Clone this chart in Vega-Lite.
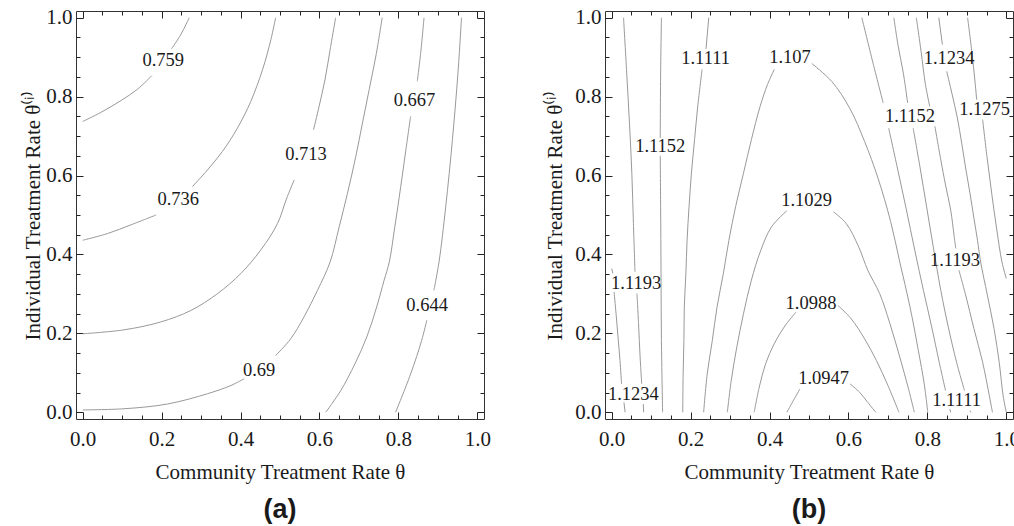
{
  "$schema": "https://vega.github.io/schema/vega-lite/v6.json",
  "padding": {"left": 22, "top": 6, "right": 0, "bottom": 0},
  "spacing": 53,
  "datasets": {
    "la": [
      {"s":"759a","x":0,"y":0.737},{"s":"759a","x":0.046,"y":0.760},{"s":"759a","x":0.097,"y":0.790},{"s":"759a","x":0.139,"y":0.819},{"s":"759a","x":0.175,"y":0.853},
      {"s":"759b","x":0.225,"y":0.921},{"s":"759b","x":0.249,"y":0.958},{"s":"759b","x":0.27,"y":1.0},
      {"s":"736a","x":0,"y":0.436},{"s":"736a","x":0.063,"y":0.453},{"s":"736a","x":0.122,"y":0.475},{"s":"736a","x":0.186,"y":0.5},
      {"s":"736b","x":0.278,"y":0.572},{"s":"736b","x":0.316,"y":0.614},{"s":"736b","x":0.354,"y":0.661},{"s":"736b","x":0.392,"y":0.72},{"s":"736b","x":0.426,"y":0.788},{"s":"736b","x":0.456,"y":0.869},{"s":"736b","x":0.477,"y":0.945},{"s":"736b","x":0.489,"y":1.0},
      {"s":"713a","x":0,"y":0.199},{"s":"713a","x":0.105,"y":0.209},{"s":"713a","x":0.198,"y":0.229},{"s":"713a","x":0.274,"y":0.258},{"s":"713a","x":0.342,"y":0.301},{"s":"713a","x":0.401,"y":0.352},{"s":"713a","x":0.451,"y":0.411},{"s":"713a","x":0.494,"y":0.479},{"s":"713a","x":0.516,"y":0.54},{"s":"713a","x":0.536,"y":0.589},
      {"s":"713b","x":0.585,"y":0.716},{"s":"713b","x":0.599,"y":0.775},{"s":"713b","x":0.614,"y":0.843},{"s":"713b","x":0.627,"y":0.919},{"s":"713b","x":0.641,"y":1.0},
      {"s":"690a","x":0,"y":0.006},{"s":"690a","x":0.105,"y":0.009},{"s":"690a","x":0.215,"y":0.021},{"s":"690a","x":0.316,"y":0.047},{"s":"690a","x":0.376,"y":0.068},{"s":"690a","x":0.409,"y":0.085},
      {"s":"690b","x":0.489,"y":0.144},{"s":"690b","x":0.527,"y":0.186},{"s":"690b","x":0.561,"y":0.242},{"s":"690b","x":0.595,"y":0.309},{"s":"690b","x":0.627,"y":0.381},{"s":"690b","x":0.65,"y":0.47},{"s":"690b","x":0.671,"y":0.555},{"s":"690b","x":0.692,"y":0.648},{"s":"690b","x":0.709,"y":0.733},{"s":"690b","x":0.726,"y":0.818},{"s":"690b","x":0.743,"y":0.903},{"s":"690b","x":0.759,"y":1.0},
      {"s":"667a","x":0.616,"y":0},{"s":"667a","x":0.654,"y":0.055},{"s":"667a","x":0.69,"y":0.123},{"s":"667a","x":0.72,"y":0.191},{"s":"667a","x":0.745,"y":0.267},{"s":"667a","x":0.764,"y":0.335},{"s":"667a","x":0.777,"y":0.381},{"s":"667a","x":0.791,"y":0.47},{"s":"667a","x":0.806,"y":0.572},{"s":"667a","x":0.819,"y":0.665},{"s":"667a","x":0.831,"y":0.75},
      {"s":"667b","x":0.848,"y":0.839},{"s":"667b","x":0.857,"y":0.915},{"s":"667b","x":0.865,"y":1.0},
      {"s":"644a","x":0.793,"y":0},{"s":"644a","x":0.831,"y":0.097},{"s":"644a","x":0.859,"y":0.182},{"s":"644a","x":0.872,"y":0.233},
      {"s":"644b","x":0.89,"y":0.309},{"s":"644b","x":0.903,"y":0.381},{"s":"644b","x":0.92,"y":0.521},{"s":"644b","x":0.937,"y":0.691},{"s":"644b","x":0.951,"y":0.86},{"s":"644b","x":0.96,"y":1.0}
    ],
    "lt": [
      {"x":0.204,"y":0.892,"t":"0.759"},{"x":0.242,"y":0.540,"t":"0.736"},{"x":0.566,"y":0.655,"t":"0.713"},
      {"x":0.447,"y":0.108,"t":"0.69"},{"x":0.841,"y":0.792,"t":"0.667"},{"x":0.873,"y":0.273,"t":"0.644"}
    ],
    "ra": [
      {"s":"1234La","x":0,"y":0.364},{"s":"1234La","x":0.003,"y":0.352},
      {"s":"1234Lb","x":0.006,"y":0.305},{"s":"1234Lb","x":0.011,"y":0.25},{"s":"1234Lb","x":0.016,"y":0.191},{"s":"1234Lb","x":0.021,"y":0.131},{"s":"1234Lb","x":0.025,"y":0.072},
      {"s":"1234Lc","x":0.031,"y":0.025},{"s":"1234Lc","x":0.034,"y":0},
      {"s":"1193La","x":0.03,"y":1.0},{"s":"1193La","x":0.038,"y":0.86},{"s":"1193La","x":0.045,"y":0.733},{"s":"1193La","x":0.051,"y":0.606},{"s":"1193La","x":0.055,"y":0.479},{"s":"1193La","x":0.059,"y":0.356},
      {"s":"1193Lb","x":0.064,"y":0.301},{"s":"1193Lb","x":0.068,"y":0.225},{"s":"1193Lb","x":0.072,"y":0.14},{"s":"1193Lb","x":0.076,"y":0.072},
      {"s":"1193Lc","x":0.08,"y":0.021},{"s":"1193Lc","x":0.081,"y":0},
      {"s":"1152La","x":0.126,"y":1.0},{"s":"1152La","x":0.124,"y":0.86},{"s":"1152La","x":0.123,"y":0.695},
      {"s":"1152Lb","x":0.123,"y":0.65},{"s":"1152Lb","x":0.124,"y":0.521},{"s":"1152Lb","x":0.125,"y":0.352},{"s":"1152Lb","x":0.126,"y":0.182},{"s":"1152Lb","x":0.129,"y":0},
      {"s":"1111La","x":0.246,"y":1.0},{"s":"1111La","x":0.239,"y":0.921},
      {"s":"1111Lb","x":0.229,"y":0.869},{"s":"1111Lb","x":0.218,"y":0.775},{"s":"1111Lb","x":0.21,"y":0.691},{"s":"1111Lb","x":0.202,"y":0.606},{"s":"1111Lb","x":0.196,"y":0.521},{"s":"1111Lb","x":0.191,"y":0.436},{"s":"1111Lb","x":0.188,"y":0.352},{"s":"1111Lb","x":0.184,"y":0.267},{"s":"1111Lb","x":0.183,"y":0.182},{"s":"1111Lb","x":0.181,"y":0.097},{"s":"1111Lb","x":0.18,"y":0},
      {"s":"1107a","x":0.233,"y":0},{"s":"1107a","x":0.242,"y":0.097},{"s":"1107a","x":0.255,"y":0.182},{"s":"1107a","x":0.267,"y":0.267},{"s":"1107a","x":0.283,"y":0.352},{"s":"1107a","x":0.297,"y":0.436},{"s":"1107a","x":0.314,"y":0.521},{"s":"1107a","x":0.334,"y":0.606},{"s":"1107a","x":0.354,"y":0.691},{"s":"1107a","x":0.376,"y":0.775},{"s":"1107a","x":0.395,"y":0.831},{"s":"1107a","x":0.412,"y":0.869},
      {"s":"1107b","x":0.507,"y":0.884},{"s":"1107b","x":0.558,"y":0.838},{"s":"1107b","x":0.603,"y":0.771},{"s":"1107b","x":0.641,"y":0.686},{"s":"1107b","x":0.675,"y":0.593},{"s":"1107b","x":0.707,"y":0.483},{"s":"1107b","x":0.73,"y":0.381},{"s":"1107b","x":0.756,"y":0.267},{"s":"1107b","x":0.777,"y":0.157},{"s":"1107b","x":0.792,"y":0.072},{"s":"1107b","x":0.801,"y":0},
      {"s":"1029a","x":0.293,"y":0},{"s":"1029a","x":0.303,"y":0.081},{"s":"1029a","x":0.317,"y":0.165},{"s":"1029a","x":0.334,"y":0.25},{"s":"1029a","x":0.354,"y":0.335},{"s":"1029a","x":0.378,"y":0.411},{"s":"1029a","x":0.405,"y":0.47},{"s":"1029a","x":0.444,"y":0.511},
      {"s":"1029b","x":0.562,"y":0.508},{"s":"1029b","x":0.594,"y":0.479},{"s":"1029b","x":0.626,"y":0.419},{"s":"1029b","x":0.649,"y":0.36},{"s":"1029b","x":0.679,"y":0.301},{"s":"1029b","x":0.705,"y":0.225},{"s":"1029b","x":0.73,"y":0.14},{"s":"1029b","x":0.751,"y":0.064},{"s":"1029b","x":0.767,"y":0},
      {"s":"0988a","x":0.361,"y":0},{"s":"0988a","x":0.374,"y":0.064},{"s":"0988a","x":0.39,"y":0.123},{"s":"0988a","x":0.412,"y":0.174},{"s":"0988a","x":0.437,"y":0.216},{"s":"0988a","x":0.467,"y":0.254},
      {"s":"0988b","x":0.573,"y":0.271},{"s":"0988b","x":0.607,"y":0.237},{"s":"0988b","x":0.641,"y":0.186},{"s":"0988b","x":0.671,"y":0.131},{"s":"0988b","x":0.7,"y":0.068},{"s":"0988b","x":0.728,"y":0},
      {"s":"0947a","x":0.444,"y":0},{"s":"0947a","x":0.461,"y":0.031},{"s":"0947a","x":0.477,"y":0.059},
      {"s":"0947b","x":0.604,"y":0.072},{"s":"0947b","x":0.628,"y":0.051},{"s":"0947b","x":0.649,"y":0.025},{"s":"0947b","x":0.669,"y":0},
      {"s":"1111Ra","x":0.634,"y":1.0},{"s":"1111Ra","x":0.66,"y":0.894},{"s":"1111Ra","x":0.688,"y":0.784},
      {"s":"1111Rb","x":0.702,"y":0.72},{"s":"1111Rb","x":0.724,"y":0.619},{"s":"1111Rb","x":0.746,"y":0.517},{"s":"1111Rb","x":0.768,"y":0.411},{"s":"1111Rb","x":0.79,"y":0.309},{"s":"1111Rb","x":0.811,"y":0.216},{"s":"1111Rb","x":0.83,"y":0.127},{"s":"1111Rb","x":0.846,"y":0.055},
      {"s":"1111Rc","x":0.857,"y":0.008},{"s":"1111Rc","x":0.859,"y":0},
      {"s":"1152Ra","x":0.715,"y":1.0},{"s":"1152Ra","x":0.726,"y":0.928},{"s":"1152Ra","x":0.739,"y":0.86},{"s":"1152Ra","x":0.75,"y":0.784},
      {"s":"1152Rb","x":0.764,"y":0.72},{"s":"1152Rb","x":0.781,"y":0.623},{"s":"1152Rb","x":0.798,"y":0.521},{"s":"1152Rb","x":0.815,"y":0.419},{"s":"1152Rb","x":0.834,"y":0.309},{"s":"1152Rb","x":0.853,"y":0.216},{"s":"1152Rb","x":0.874,"y":0.127},{"s":"1152Rb","x":0.894,"y":0.055},
      {"s":"1152Rc","x":0.908,"y":0.004},{"s":"1152Rc","x":0.91,"y":0},
      {"s":"1193Ra","x":0.772,"y":1.0},{"s":"1193Ra","x":0.784,"y":0.915},{"s":"1193Ra","x":0.795,"y":0.831},{"s":"1193Ra","x":0.806,"y":0.775},
      {"s":"1193Rb","x":0.819,"y":0.725},{"s":"1193Rb","x":0.834,"y":0.64},{"s":"1193Rb","x":0.846,"y":0.576},{"s":"1193Rb","x":0.859,"y":0.513},{"s":"1193Rb","x":0.868,"y":0.445},{"s":"1193Rb","x":0.872,"y":0.415},
      {"s":"1193Rc","x":0.88,"y":0.36},{"s":"1193Rc","x":0.897,"y":0.297},{"s":"1193Rc","x":0.918,"y":0.212},{"s":"1193Rc","x":0.94,"y":0.127},{"s":"1193Rc","x":0.957,"y":0.042},{"s":"1193Rc","x":0.965,"y":0},
      {"s":"1234Ra","x":0.829,"y":1.0},{"s":"1234Ra","x":0.838,"y":0.932},
      {"s":"1234Rb","x":0.849,"y":0.864},{"s":"1234Rb","x":0.862,"y":0.809},{"s":"1234Rb","x":0.876,"y":0.746},{"s":"1234Rb","x":0.887,"y":0.682},{"s":"1234Rb","x":0.897,"y":0.619},{"s":"1234Rb","x":0.908,"y":0.555},{"s":"1234Rb","x":0.918,"y":0.492},{"s":"1234Rb","x":0.927,"y":0.436},{"s":"1234Rb","x":0.935,"y":0.381},{"s":"1234Rb","x":0.952,"y":0.297},{"s":"1234Rb","x":0.969,"y":0.212},{"s":"1234Rb","x":0.982,"y":0.127},{"s":"1234Rb","x":0.992,"y":0.042},{"s":"1234Rb","x":1.0,"y":0},
      {"s":"1275a","x":0.902,"y":1.0},{"s":"1275a","x":0.913,"y":0.911},{"s":"1275a","x":0.921,"y":0.835},{"s":"1275a","x":0.925,"y":0.792},
      {"s":"1275b","x":0.94,"y":0.742},{"s":"1275b","x":0.951,"y":0.648},{"s":"1275b","x":0.963,"y":0.555},{"s":"1275b","x":0.976,"y":0.462},{"s":"1275b","x":0.989,"y":0.381},{"s":"1275b","x":1.0,"y":0.339}
    ],
    "rt": [
      {"x":0.238,"y":0.898,"t":"1.1111"},{"x":0.452,"y":0.901,"t":"1.107"},{"x":0.855,"y":0.898,"t":"1.1234"},
      {"x":0.756,"y":0.750,"t":"1.1152"},{"x":0.945,"y":0.769,"t":"1.1275"},{"x":0.123,"y":0.674,"t":"1.1152"},
      {"x":0.494,"y":0.538,"t":"1.1029"},{"x":0.870,"y":0.387,"t":"1.1193"},{"x":0.062,"y":0.328,"t":"1.1193"},
      {"x":0.505,"y":0.277,"t":"1.0988"},{"x":0.537,"y":0.086,"t":"1.0947"},{"x":0.055,"y":0.047,"t":"1.1234"},
      {"x":0.874,"y":0.030,"t":"1.1111"}
    ]
  },
  "hconcat": [
    {
      "width": 408, "height": 408,
      "title": {"text": "(a)", "orient": "bottom", "frame": "group", "anchor": "middle", "offset": 15},
      "layer": [
        {
          "data": {"name": "la"},
          "mark": {"type": "line", "color": "#999999", "strokeWidth": 1, "interpolate": "catmull-rom"},
          "encoding": {
            "x": {"field": "x", "type": "quantitative", "scale": {"domain": [-0.017, 1.017], "nice": false, "zero": false},
                  "axis": {"orient": "bottom", "values": [0, 0.2, 0.4, 0.6, 0.8, 1], "format": ".1f", "tickSize": -7, "labelPadding": 16, "title": "Community Treatment Rate θ", "titlePadding": 12}},
            "y": {"field": "y", "type": "quantitative", "scale": {"domain": [-0.017, 1.017], "nice": false, "zero": false},
                  "axis": {"orient": "left", "values": [0, 0.2, 0.4, 0.6, 0.8, 1], "format": ".1f", "tickSize": -7, "labelPadding": 11, "title": "Individual Treatment Rate θ⁽ⁱ⁾", "titlePadding": 2}},
            "detail": {"field": "s", "type": "nominal"},
            "order": {"field": "y", "type": "quantitative"}
          }
        },
        {
          "data": {"name": "lt"},
          "mark": {"type": "text", "font": "Liberation Serif", "fontSize": 18.5, "color": "#1a1a1a", "align": "center", "baseline": "middle"},
          "encoding": {
            "x": {"field": "x", "type": "quantitative", "axis": {"orient": "top", "values": [0, 0.2, 0.4, 0.6, 0.8, 1], "labels": false, "tickSize": -7, "title": null}},
            "y": {"field": "y", "type": "quantitative", "axis": {"orient": "right", "values": [0, 0.2, 0.4, 0.6, 0.8, 1], "labels": false, "tickSize": -7, "title": null}},
            "text": {"field": "t", "type": "nominal"}
          }
        },
        {
          "data": {"name": "lt"},
          "mark": {"type": "point", "opacity": 0},
          "encoding": {
            "x": {"field": "x", "type": "quantitative", "axis": {"orient": "bottom", "values": [0.05,0.1,0.15,0.25,0.3,0.35,0.45,0.5,0.55,0.65,0.7,0.75,0.85,0.9,0.95], "labels": false, "tickSize": -4, "title": null}},
            "y": {"field": "y", "type": "quantitative", "axis": {"orient": "left", "values": [0.05,0.1,0.15,0.25,0.3,0.35,0.45,0.5,0.55,0.65,0.7,0.75,0.85,0.9,0.95], "labels": false, "tickSize": -4, "title": null}}
          }
        },
        {
          "data": {"name": "lt"},
          "mark": {"type": "point", "opacity": 0},
          "encoding": {
            "x": {"field": "x", "type": "quantitative", "axis": {"orient": "top", "values": [0.05,0.1,0.15,0.25,0.3,0.35,0.45,0.5,0.55,0.65,0.7,0.75,0.85,0.9,0.95], "labels": false, "tickSize": -4, "title": null}},
            "y": {"field": "y", "type": "quantitative", "axis": {"orient": "right", "values": [0.05,0.1,0.15,0.25,0.3,0.35,0.45,0.5,0.55,0.65,0.7,0.75,0.85,0.9,0.95], "labels": false, "tickSize": -4, "title": null}}
          }
        }
      ],
      "resolve": {"axis": {"x": "independent", "y": "independent"}}
    },
    {
      "width": 408, "height": 408,
      "title": {"text": "(b)", "orient": "bottom", "frame": "group", "anchor": "middle", "offset": 15},
      "layer": [
        {
          "data": {"name": "ra"},
          "mark": {"type": "line", "color": "#999999", "strokeWidth": 1, "interpolate": "catmull-rom"},
          "encoding": {
            "x": {"field": "x", "type": "quantitative", "scale": {"domain": [-0.017, 1.017], "nice": false, "zero": false},
                  "axis": {"orient": "bottom", "values": [0, 0.2, 0.4, 0.6, 0.8, 1], "format": ".1f", "tickSize": -7, "labelPadding": 16, "title": "Community Treatment Rate θ", "titlePadding": 12}},
            "y": {"field": "y", "type": "quantitative", "scale": {"domain": [-0.017, 1.017], "nice": false, "zero": false},
                  "axis": {"orient": "left", "values": [0, 0.2, 0.4, 0.6, 0.8, 1], "format": ".1f", "tickSize": -7, "labelPadding": 11, "title": "Individual Treatment Rate θ⁽ⁱ⁾", "titlePadding": 9}},
            "detail": {"field": "s", "type": "nominal"},
            "order": {"field": "y", "type": "quantitative"}
          }
        },
        {
          "data": {"name": "rt"},
          "mark": {"type": "text", "font": "Liberation Serif", "fontSize": 18.5, "color": "#1a1a1a", "align": "center", "baseline": "middle"},
          "encoding": {
            "x": {"field": "x", "type": "quantitative", "axis": {"orient": "top", "values": [0, 0.2, 0.4, 0.6, 0.8, 1], "labels": false, "tickSize": -7, "title": null}},
            "y": {"field": "y", "type": "quantitative", "axis": {"orient": "right", "values": [0, 0.2, 0.4, 0.6, 0.8, 1], "labels": false, "tickSize": -7, "title": null}},
            "text": {"field": "t", "type": "nominal"}
          }
        },
        {
          "data": {"name": "rt"},
          "mark": {"type": "point", "opacity": 0},
          "encoding": {
            "x": {"field": "x", "type": "quantitative", "axis": {"orient": "bottom", "values": [0.05,0.1,0.15,0.25,0.3,0.35,0.45,0.5,0.55,0.65,0.7,0.75,0.85,0.9,0.95], "labels": false, "tickSize": -4, "title": null}},
            "y": {"field": "y", "type": "quantitative", "axis": {"orient": "left", "values": [0.05,0.1,0.15,0.25,0.3,0.35,0.45,0.5,0.55,0.65,0.7,0.75,0.85,0.9,0.95], "labels": false, "tickSize": -4, "title": null}}
          }
        },
        {
          "data": {"name": "rt"},
          "mark": {"type": "point", "opacity": 0},
          "encoding": {
            "x": {"field": "x", "type": "quantitative", "axis": {"orient": "top", "values": [0.05,0.1,0.15,0.25,0.3,0.35,0.45,0.5,0.55,0.65,0.7,0.75,0.85,0.9,0.95], "labels": false, "tickSize": -4, "title": null}},
            "y": {"field": "y", "type": "quantitative", "axis": {"orient": "right", "values": [0.05,0.1,0.15,0.25,0.3,0.35,0.45,0.5,0.55,0.65,0.7,0.75,0.85,0.9,0.95], "labels": false, "tickSize": -4, "title": null}}
          }
        }
      ],
      "resolve": {"axis": {"x": "independent", "y": "independent"}}
    }
  ],
  "config": {
    "view": {"stroke": "#333333", "strokeWidth": 1},
    "axis": {
      "domain": false, "grid": false, "labelFlush": false, "labelOverlap": false,
      "labelFont": "Liberation Serif", "labelFontSize": 21, "labelColor": "#1a1a1a",
      "titleFont": "Liberation Serif", "titleFontSize": 21, "titleFontWeight": "normal", "titleColor": "#1a1a1a",
      "tickColor": "#222222", "tickWidth": 1
    },
    "title": {"font": "Liberation Sans", "fontSize": 27, "fontWeight": "bold", "color": "#1a1a1a"}
  }
}
